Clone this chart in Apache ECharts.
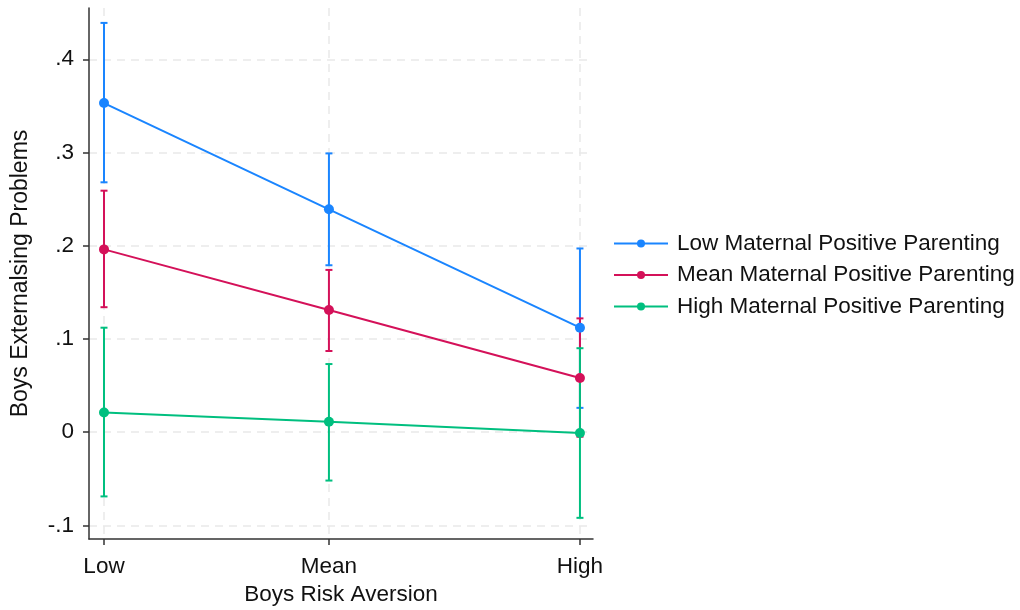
<!DOCTYPE html>
<html>
<head>
<meta charset="utf-8">
<script src="https://cdn.jsdelivr.net/npm/echarts@6/dist/echarts.min.js"></script>
<style>
html,body{margin:0;padding:0;background:#fff;}
#chart{width:1020px;height:610px;}
</style>
</head>
<body>
<div id="chart"></div>
<script>
// Category positions on the risk-aversion scale (uneven spacing as in the reference)
var categories = ['Low', 'Mean', 'High'];
var riskPositions = [0, 1, 2.116];
var seriesNames = ['Low Maternal Positive Parenting', 'Mean Maternal Positive Parenting', 'High Maternal Positive Parenting'];

var lowMPP = [0.353, 0.239, 0.112];
var lowMPPUpper = [0.439, 0.299, 0.197];
var lowMPPLower = [0.268, 0.179, 0.026];

var meanMPP = [0.196, 0.131, 0.058];
var meanMPPUpper = [0.259, 0.174, 0.122];
var meanMPPLower = [0.134, 0.087, -0.005];

var highMPP = [0.021, 0.011, -0.001];
var highMPPUpper = [0.112, 0.073, 0.090];
var highMPPLower = [-0.069, -0.052, -0.092];

var yTicks = [-0.1, 0, 0.1, 0.2, 0.3, 0.4];
var yTickLabels = ['-.1', '0', '.1', '.2', '.3', '.4'];

var colors = ['#1a85ff', '#d41159', '#00bf7f'];

var means = [lowMPP, meanMPP, highMPP];
var uppers = [lowMPPUpper, meanMPPUpper, highMPPUpper];
var lowers = [lowMPPLower, meanMPPLower, highMPPLower];

var FONT = 'Liberation Sans, Arial, sans-serif';
var FS = 22.5;

var series = [];
for (var s = 0; s < 3; s++) {
  var errData = [];
  for (var i = 0; i < 3; i++) errData.push([riskPositions[i], lowers[s][i], uppers[s][i]]);
  (function(color){
    series.push({
      type: 'custom',
      name: seriesNames[s] + ' CI',
      data: errData,
      z: 2,
      silent: true,
      renderItem: function(params, api) {
        var x = api.value(0);
        var lo = api.coord([x, api.value(1)]);
        var hi = api.coord([x, api.value(2)]);
        var hw = 3.5;
        var st = {stroke: color, lineWidth: 2, fill: null};
        return {
          type: 'group',
          children: [
            {type: 'line', shape: {x1: lo[0], y1: lo[1], x2: hi[0], y2: hi[1]}, style: st},
            {type: 'line', shape: {x1: lo[0]-hw, y1: lo[1], x2: lo[0]+hw, y2: lo[1]}, style: st},
            {type: 'line', shape: {x1: hi[0]-hw, y1: hi[1], x2: hi[0]+hw, y2: hi[1]}, style: st}
          ]
        };
      }
    });
  })(colors[s]);
  var lineData = [];
  for (var j = 0; j < 3; j++) lineData.push([riskPositions[j], means[s][j]]);
  series.push({
    type: 'line',
    name: seriesNames[s],
    data: lineData,
    z: 3,
    symbol: 'circle',
    symbolSize: 10,
    showAllSymbol: true,
    lineStyle: {color: colors[s], width: 2},
    itemStyle: {color: colors[s]},
    emphasis: {disabled: true}
  });
}

var chart = echarts.init(document.getElementById('chart'), null, {renderer: 'canvas'});
chart.setOption({
  animation: false,
  backgroundColor: '#ffffff',
  textStyle: {fontFamily: FONT},
  grid: {left: 89, right: 427, top: 8, bottom: 71, containLabel: false, outerBoundsMode: 'none'},
  legend: {
    data: seriesNames,
    orient: 'vertical',
    left: 608,
    top: 227,
    itemWidth: 54,
    itemHeight: 10,
    itemGap: 8.5,
    textStyle: {fontSize: FS, lineHeight: 22, color: '#111', fontFamily: FONT, padding: [0, 0, 0, 4]}
  },
  xAxis: {
    type: 'value',
    min: -0.0667,
    max: 2.174,
    name: 'Boys Risk Aversion',
    nameLocation: 'middle',
    nameGap: 44,
    nameTextStyle: {fontSize: FS, color: '#111'},
    axisLine: {show: true, onZero: false, lineStyle: {color: '#333', width: 1.5}},
    axisTick: {show: true, length: 6, customValues: riskPositions, lineStyle: {color: '#333', width: 1.5}},
    axisLabel: {
      customValues: riskPositions,
      fontSize: FS, color: '#111', margin: 16,
      formatter: function(v) {
        for (var k = 0; k < riskPositions.length; k++) if (Math.abs(v - riskPositions[k]) < 1e-6) return categories[k];
        return '';
      }
    },
    splitLine: {show: true, lineStyle: {color: '#e9e9e9', width: 1.5, type: [8, 6]}}
  },
  yAxis: {
    type: 'value',
    min: -0.1147,
    max: 0.455,
    name: 'Boys Externalsing Problems',
    nameLocation: 'middle',
    nameGap: 57,
    nameTextStyle: {fontSize: 23, color: '#111'},
    axisLine: {show: true, onZero: false, lineStyle: {color: '#333', width: 1.5}},
    axisTick: {show: true, length: 6, customValues: yTicks, lineStyle: {color: '#333', width: 1.5}},
    axisLabel: {
      customValues: yTicks,
      fontSize: FS, color: '#111', margin: 15,
      formatter: function(v) {
        for (var k = 0; k < yTicks.length; k++) if (Math.abs(v - yTicks[k]) < 1e-6) return yTickLabels[k];
        return '';
      }
    },
    splitLine: {show: true, lineStyle: {color: '#e9e9e9', width: 1.5, type: [8, 6]}}
  },
  series: series
});
</script>
</body>
</html>
